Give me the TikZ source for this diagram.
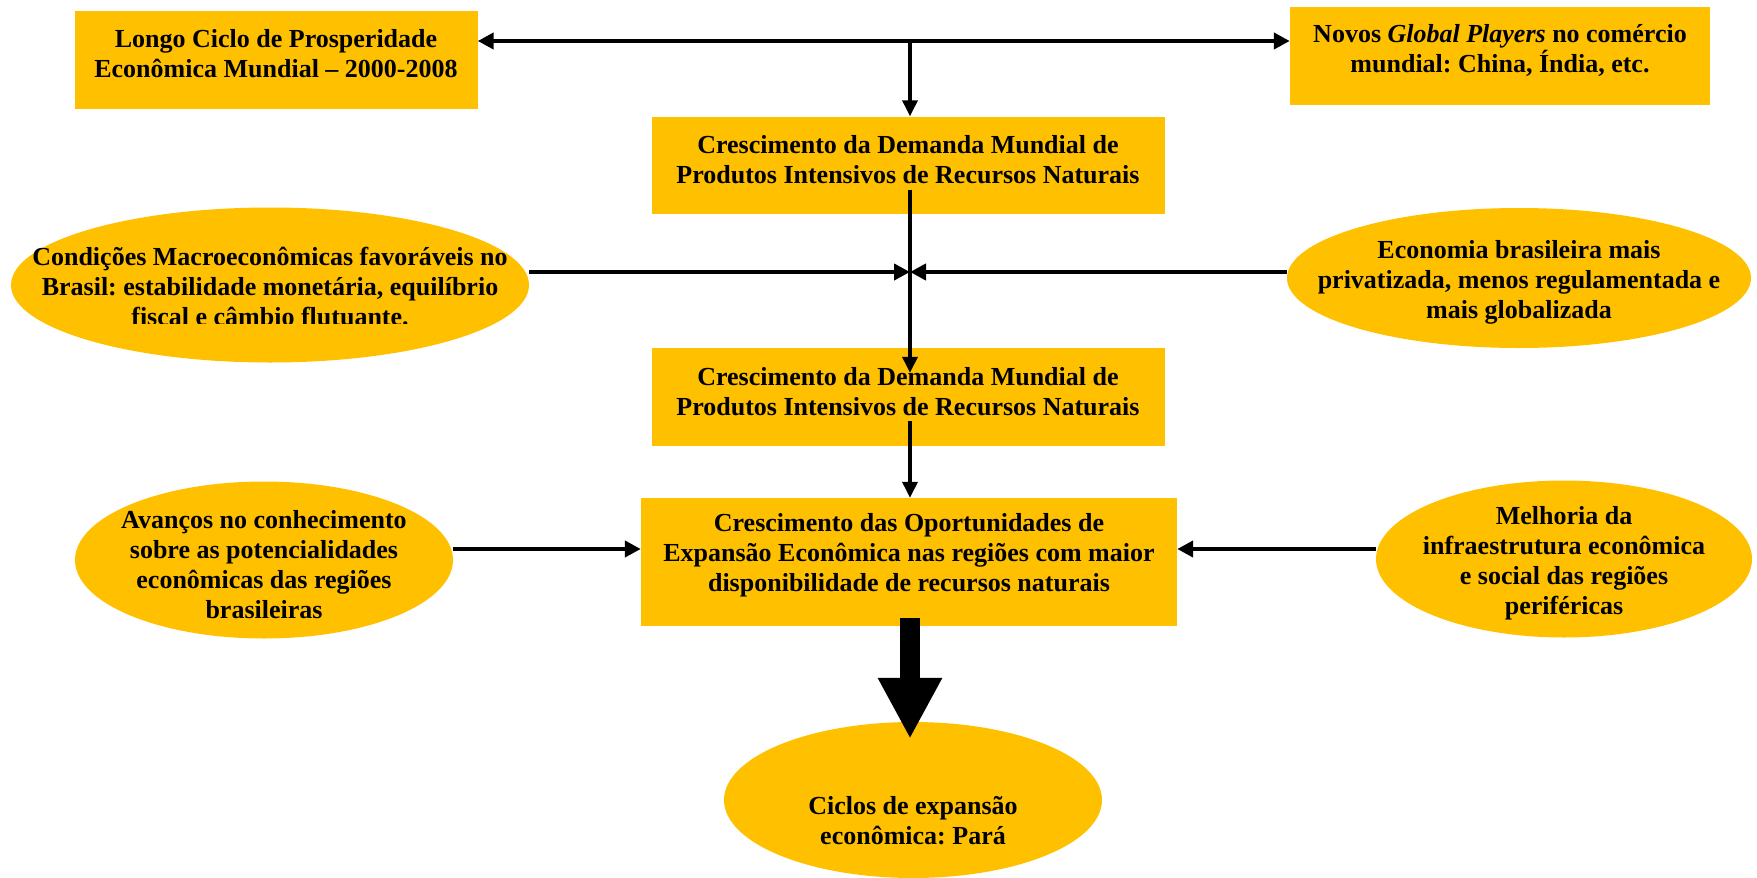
\documentclass[tikz,border=0pt]{standalone}
\usepackage{fontspec}
\setmainfont{Liberation Serif}
\usetikzlibrary{shapes.geometric,arrows.meta}
\definecolor{gold}{HTML}{FFC000}
\frenchspacing
\begin{document}
\begin{tikzpicture}[x=1pt,y=-1pt,
  box/.style={rectangle, fill=gold, draw=none, inner sep=0pt},
  ell/.style={ellipse, fill=gold, draw=none, inner sep=0pt},
  txt/.style={font=\fontsize{26}{30}\selectfont\bfseries, align=center, inner sep=0pt},
  con/.style={line width=4pt, -{Triangle[length=16pt,width=16pt]}},
  vcon/.style={line width=3.5pt, -{Triangle[length=16pt,width=15pt]}},
  both/.style={line width=4.5pt, {Triangle[length=16pt,width=16pt]}-{Triangle[length=16pt,width=16pt]}},
]
\useasboundingbox (0,0) rectangle (1757,878);

% rectangles
\node[box, minimum width=403pt, minimum height=98pt] (longo) at (276,60) {};
\node[txt] (longoT) at (276,54)
  {Longo Ciclo de Prosperidade\\Econômica Mundial -- 2000-2008};
\node[box, minimum width=420pt, minimum height=98pt] (novos) at (1500,56) {};
\node[txt] (novosT) at (1500,50)
  {Novos \textit{Global Players} no comércio\\mundial: China, Índia, etc.};
\node[box, minimum width=513pt, minimum height=97pt] (dem1) at (908,165) {};
\node[txt] (dem1T) at (908,160)
  {Crescimento da Demanda Mundial de\\Produtos Intensivos de Recursos Naturais};
\node[box, minimum width=513pt, minimum height=98pt] (dem2) at (908,397) {};
\node[txt] (dem2T) at (908,392)
  {Crescimento da Demanda Mundial de\\Produtos Intensivos de Recursos Naturais};
\node[box, minimum width=536pt, minimum height=128pt] (opor) at (909,562) {};
\node[txt] (oporT) at (909,555)
  {Crescimento das Oportunidades de\\Expansão Econômica nas regiões com maior\\disponibilidade de recursos naturais};

% ellipses
\node[ell, minimum width=518pt, minimum height=155pt] (cond) at (270,285) {};
\begin{scope}
  \clip (0,0) rectangle (1757,323);
  \node[txt] (condT) at (270,287)
    {Condições Macroeconômicas favoráveis no\\Brasil: estabilidade monetária, equilíbrio\\fiscal e câmbio flutuante.};
\end{scope}
\node[ell, minimum width=464pt, minimum height=140pt] (econ) at (1519,278) {};
\node[txt] (econT) at (1519,282)
  {Economia brasileira mais\\privatizada, menos regulamentada e\\mais globalizada};
\node[ell, minimum width=378pt, minimum height=157pt] (avan) at (264,560) {};
\node[txt] (avanT) at (264,565)
  {Avanços no conhecimento\\sobre as potencialidades\\econômicas das regiões\\brasileiras};
\node[ell, minimum width=376pt, minimum height=157pt] (melh) at (1564,559) {};
\node[txt] (melhT) at (1564,563)
  {Melhoria da\\infraestrutura econômica\\e social das regiões\\periféricas};
\node[ell, minimum width=378pt, minimum height=156pt] (cicl) at (913,800) {};
\node[txt] (ciclT) at (913,821)
  {Ciclos de expansão\\econômica: Pará};

% junctions
\coordinate (j1) at (910,41);
\coordinate (j2) at (910,272);
\coordinate (j3) at (910,549);

% connectors
\draw[both] (longo.east |- j1) -- (novos.west |- j1);
\draw[vcon] (j1) -- (dem1.north -| j1);
\draw[vcon] ([yshift=24pt]dem1.south -| j1) -- ([yshift=-25pt]dem2.north -| j1);
\draw[vcon] ([yshift=25pt]dem2.south -| j1) -- (opor.north -| j1);
\draw[con] (cond.east |- j2) -- (j2);
\draw[con] (econ.west |- j2) -- (j2);
\draw[con] (avan.east |- j3) -- (opor.west |- j3);
\draw[con] (melh.west |- j3) -- (opor.east |- j3);
\draw[line width=20pt, -{Triangle[length=61pt,width=60pt]}]
  ([yshift=8pt]opor.south -| j1) -- ([yshift=-17pt]cicl.north -| j1);
\end{tikzpicture}
\end{document}
